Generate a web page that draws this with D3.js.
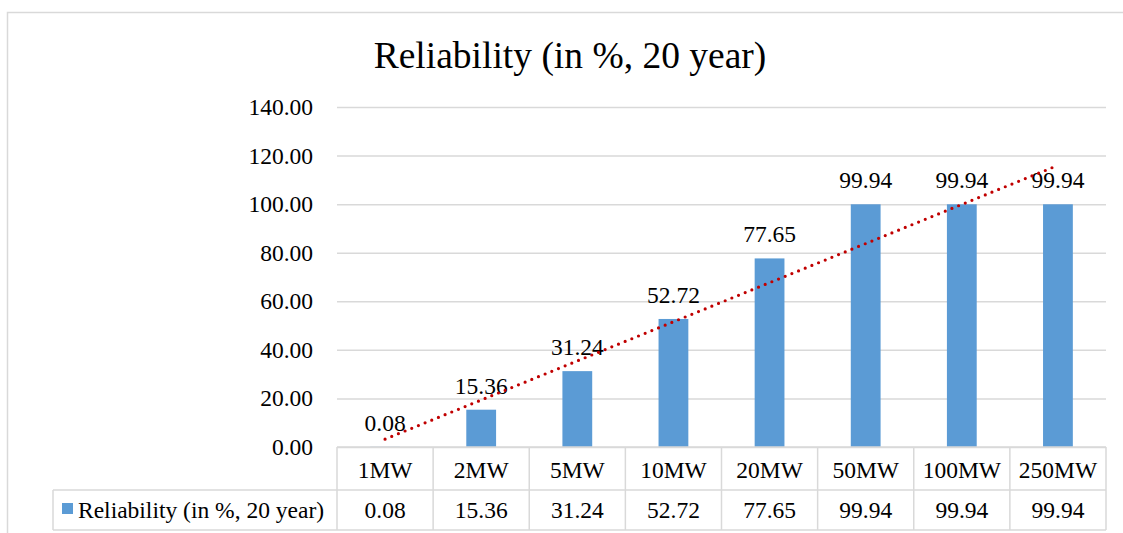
<!DOCTYPE html>
<html>
<head>
<meta charset="utf-8">
<script src="https://cdn.jsdelivr.net/npm/d3@7"></script>
<style>
  html, body { margin: 0; padding: 0; background: #fff; }
  svg { display: block; font-family: "Liberation Serif", "Times New Roman", serif; }
</style>
</head>
<body>
<svg id="chart" width="1123" height="533"></svg>
<script>
const title = "Reliability (in %, 20 year)";
const seriesName = "Reliability (in %, 20 year)";
const categories = ["1MW", "2MW", "5MW", "10MW", "20MW", "50MW", "100MW", "250MW"];
const values = [0.08, 15.36, 31.24, 52.72, 77.65, 99.94, 99.94, 99.94];
const yTicks = [0, 20, 40, 60, 80, 100, 120, 140];

const svg = d3.select("#chart");
const plot = { left: 337, right: 1106, top: 107, bottom: 447 };
const rowH1 = 43, rowH2 = 40;
const legendLeft = 53;
const gridColor = "#d9d9d9";
const barColor = "#5b9bd5";
const trendColor = "#c00000";
const labelSize = 23.5;
const serif = "Liberation Serif, Times New Roman, serif";

// outer chart border (extends past the picture on the right/bottom)
svg.append("rect")
  .attr("x", 7.5).attr("y", 12.5)
  .attr("width", 1200).attr("height", 600)
  .attr("fill", "none").attr("stroke", gridColor).attr("stroke-width", 1.5);

// title
svg.append("text")
  .attr("x", 570).attr("y", 68)
  .attr("text-anchor", "middle")
  .attr("font-size", 37.5)
  .attr("fill", "#000")
  .text(title);

const x = d3.scaleBand().domain(categories).range([plot.left, plot.right]).padding(0);
const y = d3.scaleLinear().domain([0, 140]).range([plot.bottom, plot.top]);

// gridlines + y labels via axis
const yAxis = d3.axisLeft(y).tickValues(yTicks).tickFormat(d3.format(".2f"))
  .tickSize(-(plot.right - plot.left)).tickPadding(24);
const gy = svg.append("g").attr("transform", `translate(${plot.left},0)`).call(yAxis)
  .attr("font-family", serif);
gy.select(".domain").remove();
gy.selectAll(".tick line").attr("stroke", gridColor).attr("stroke-width", 1.5);
gy.selectAll(".tick text")
  .attr("font-size", labelSize).attr("fill", "#000")
  .attr("font-family", serif);

// bars
const barW = x.bandwidth() * 0.31;
svg.append("g").selectAll("rect")
  .data(values)
  .join("rect")
  .attr("x", (d, i) => x(categories[i]) + (x.bandwidth() - barW) / 2)
  .attr("y", d => y(d))
  .attr("width", barW)
  .attr("height", d => y(0) - y(d))
  .attr("fill", barColor);

// data labels
svg.append("g").selectAll("text")
  .data(values)
  .join("text")
  .attr("x", (d, i) => x(categories[i]) + x.bandwidth() / 2)
  .attr("y", d => y(d) - 16)
  .attr("text-anchor", "middle")
  .attr("font-size", labelSize)
  .attr("fill", "#000")
  .text(d => d.toFixed(2));

// linear trendline (least squares over category index)
const n = values.length;
const xs = d3.range(1, n + 1);
const mx = d3.mean(xs), my = d3.mean(values);
const slope = d3.sum(xs, (v, i) => (v - mx) * (values[i] - my)) / d3.sum(xs, v => (v - mx) ** 2);
const intercept = my - slope * mx;
const trendPts = [xs[0], xs[n - 1]].map(k => [x(categories[k - 1]) + x.bandwidth() / 2, y(intercept + slope * k)]);
svg.append("path")
  .attr("d", d3.line()(trendPts))
  .attr("fill", "none")
  .attr("stroke", trendColor)
  .attr("stroke-width", 3.2)
  .attr("stroke-linecap", "round")
  .attr("stroke-dasharray", "0 7.2");

// data table
const tY0 = plot.bottom, tY1 = plot.bottom + rowH1, tY2 = tY1 + rowH2;
const tbl = svg.append("g").attr("stroke", gridColor).attr("stroke-width", 1.5);
tbl.append("line").attr("x1", plot.left).attr("x2", plot.right).attr("y1", tY0).attr("y2", tY0);
tbl.append("line").attr("x1", legendLeft).attr("x2", plot.right).attr("y1", tY1).attr("y2", tY1);
tbl.append("line").attr("x1", legendLeft).attr("x2", plot.right).attr("y1", tY2).attr("y2", tY2);
tbl.append("line").attr("x1", legendLeft).attr("x2", legendLeft).attr("y1", tY1).attr("y2", tY2);
const edges = categories.map(c => x(c)).concat([plot.right]);
tbl.selectAll("line.v").data(edges).join("line").attr("class", "v")
  .attr("x1", d => d).attr("x2", d => d).attr("y1", tY0).attr("y2", tY2);

svg.append("g").selectAll("text").data(categories).join("text")
  .attr("x", d => x(d) + x.bandwidth() / 2)
  .attr("y", tY0 + 31)
  .attr("text-anchor", "middle").attr("font-size", labelSize).attr("fill", "#000")
  .text(d => d);

svg.append("g").selectAll("text").data(values).join("text")
  .attr("x", (d, i) => x(categories[i]) + x.bandwidth() / 2)
  .attr("y", tY1 + 28)
  .attr("text-anchor", "middle").attr("font-size", labelSize).attr("fill", "#000")
  .text(d => d.toFixed(2));

// legend key inside table
svg.append("rect").attr("x", 62).attr("y", 503).attr("width", 11).attr("height", 11).attr("fill", barColor);
svg.append("text").attr("x", 78).attr("y", tY1 + 28)
  .attr("font-size", labelSize).attr("fill", "#000").text(seriesName);
</script>
</body>
</html>
